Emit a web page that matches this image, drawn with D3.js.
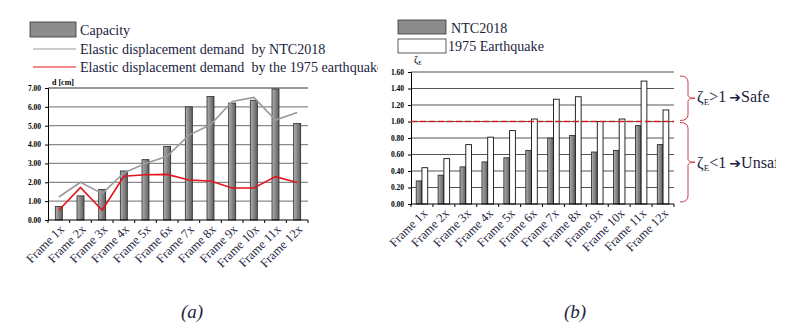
<!DOCTYPE html>
<html>
<head>
<meta charset="utf-8">
<script src="https://cdn.jsdelivr.net/npm/d3@7"></script>
<style>
  body { margin: 0; background: #fff; }
  svg text { font-family: "Liberation Serif", "Times New Roman", serif !important; }
  .tick text { font-weight: bold; font-size: 7.5px; fill: #000; }
  .legend { font-size: 14.1px; fill: #1b2340; }
  .caption { font-size: 19px; font-style: italic; fill: #1b2340; }
  svg text tspan.arrow { font-family: "DejaVu Sans", sans-serif !important; }
</style>
</head>
<body>
<div id="chart"></div>
<script>
// frames along the x axis, shared by both panels
var frames = ["Frame 1x", "Frame 2x", "Frame 3x", "Frame 4x", "Frame 5x", "Frame 6x",
              "Frame 7x", "Frame 8x", "Frame 9x", "Frame 10x", "Frame 11x", "Frame 12x"];

// panel (a): displacement in cm
var capacity = [0.72, 1.28, 1.62, 2.60, 3.20, 3.90, 6.00, 6.55, 6.20, 6.35, 6.95, 5.12];
var demandNTC = [1.22, 2.00, 1.40, 2.50, 3.00, 3.38, 4.50, 5.05, 6.28, 6.50, 5.30, 5.70];
var demand1975 = [0.52, 1.73, 0.52, 2.32, 2.40, 2.42, 2.12, 2.07, 1.70, 1.70, 2.30, 1.99];
var dTicks = [0, 1, 2, 3, 4, 5, 6, 7];

// panel (b): safety index zeta_E
var zetaNTC = [0.28, 0.35, 0.45, 0.51, 0.56, 0.65, 0.80, 0.83, 0.63, 0.65, 0.95, 0.72];
var zeta1975 = [0.44, 0.55, 0.72, 0.81, 0.89, 1.03, 1.27, 1.30, 1.00, 1.03, 1.49, 1.14];
var zTicks = [0, 0.2, 0.4, 0.6, 0.8, 1.0, 1.2, 1.4, 1.6];

var w = 800, h = 331;
var svg = d3.select("#chart").append("svg").attr("width", w).attr("height", h)
    .attr("font-family", "Liberation Serif");
var defs = svg.append("defs");

var grad = defs.append("linearGradient").attr("id", "barGray");
grad.append("stop").attr("offset", "0%").attr("stop-color", "#b4b4b4");
grad.append("stop").attr("offset", "45%").attr("stop-color", "#8a8a8a");
grad.append("stop").attr("offset", "100%").attr("stop-color", "#5e5e5e");

// legend text of panel (a) runs into panel (b)
defs.append("clipPath").attr("id", "clipA").append("rect")
    .attr("x", 0).attr("y", 0).attr("width", 378).attr("height", h);
defs.append("clipPath").attr("id", "clipR").append("rect")
    .attr("x", 0).attr("y", 0).attr("width", 776).attr("height", h);

function frameAxis(g, x, y0) {
    var step = x.step();
    g.append("line").attr("x1", x.range()[0]).attr("x2", x.range()[1])
        .attr("y1", y0).attr("y2", y0).attr("stroke", "#000");
    // tick marks on the category boundaries
    g.selectAll(".bt").data(d3.range(frames.length + 1)).enter().append("line")
        .attr("x1", function(i) { return x.range()[0] + i * step; })
        .attr("x2", function(i) { return x.range()[0] + i * step; })
        .attr("y1", y0).attr("y2", y0 + 3).attr("stroke", "#000");
    g.selectAll(".fl").data(frames).enter().append("text")
        .attr("transform", function(d) {
            return "translate(" + (x(d) + step / 2 + 3) + "," + (y0 + 7) + ") rotate(-45)";
        })
        .attr("text-anchor", "end")
        .attr("dy", "0.35em")
        .style("font-size", "12.5px")
        .style("fill", "#1b2340")
        .text(function(d) { return d; });
}

// ---------- panel (a) ----------
var a = svg.append("g");
var xA = d3.scaleBand().domain(frames).range([48, 308]);
var yA = d3.scaleLinear().domain([0, 7]).range([220, 88]);

a.selectAll(".grid").data(dTicks.slice(1)).enter().append("line")
    .attr("x1", 48).attr("x2", 308)
    .attr("y1", function(d) { return yA(d); }).attr("y2", function(d) { return yA(d); })
    .attr("stroke", function(d) { return d === 7 ? "#333" : "#8a8a8a"; })
    .attr("stroke-width", 1.2);

a.append("g").attr("transform", "translate(48,0)")
    .call(d3.axisLeft(yA).tickValues(dTicks).tickFormat(d3.format(".2f")).tickSize(3).tickPadding(4))
    .call(function(g) { g.select(".domain").attr("stroke", "#000"); });

var barW = 7;
a.selectAll(".cap").data(capacity).enter().append("rect")
    .attr("x", function(d, i) { return xA(frames[i]) + (xA.step() - barW) / 2; })
    .attr("y", function(d) { return yA(d); })
    .attr("width", barW)
    .attr("height", function(d) { return yA(0) - yA(d); })
    .attr("fill", "url(#barGray)")
    .attr("stroke", "#2a2a2a").attr("stroke-width", 0.8);

var lineA = d3.line()
    .x(function(d, i) { return xA(frames[i]) + xA.step() / 2; })
    .y(function(d) { return yA(d); });

a.append("path").datum(demandNTC).attr("d", lineA)
    .attr("fill", "none").attr("stroke", "#9a9a9a").attr("stroke-width", 1.6);
a.append("path").datum(demand1975).attr("d", lineA)
    .attr("fill", "none").attr("stroke", "#e3121c").attr("stroke-width", 1.6);

frameAxis(a, xA, 220);

a.append("text").attr("x", 52).attr("y", 85)
    .style("font-size", "8px").style("font-weight", "bold").text("d [cm]");

// legend (a)
var legA = a.append("g").attr("clip-path", "url(#clipA)");
legA.append("rect").attr("x", 30).attr("y", 22).attr("width", 46).attr("height", 15)
    .attr("fill", "#8c8c8c").attr("stroke", "#333").attr("stroke-width", 0.8);
legA.append("line").attr("x1", 33).attr("x2", 76).attr("y1", 49).attr("y2", 49)
    .attr("stroke", "#9a9a9a").attr("stroke-width", 1.2);
legA.append("line").attr("x1", 33).attr("x2", 76).attr("y1", 67).attr("y2", 67)
    .attr("stroke", "#e3121c").attr("stroke-width", 1.2);
legA.append("text").attr("class", "legend").attr("x", 80).attr("y", 35).text("Capacity");
legA.append("text").attr("class", "legend").attr("x", 80).attr("y", 54)
    .text("Elastic displacement demand\u00a0 by NTC2018");
legA.append("text").attr("class", "legend").attr("x", 80).attr("y", 72)
    .text("Elastic displacement demand\u00a0 by the 1975 earthquake");

a.append("text").attr("class", "caption").attr("x", 192).attr("y", 318)
    .attr("text-anchor", "middle").text("(a)");

// ---------- panel (b) ----------
var b = svg.append("g");
var xB = d3.scaleBand().domain(frames).range([411, 674]);
var yB = d3.scaleLinear().domain([0, 1.6]).range([204, 72]);

b.selectAll(".grid").data(zTicks.slice(1)).enter().append("line")
    .attr("x1", 411).attr("x2", 674)
    .attr("y1", function(d) { return yB(d); }).attr("y2", function(d) { return yB(d); })
    .attr("stroke", "#555").attr("stroke-width", 1);

b.append("g").attr("transform", "translate(411,0)")
    .call(d3.axisLeft(yB).tickValues(zTicks).tickFormat(d3.format(".2f")).tickSize(3).tickPadding(4))
    .call(function(g) { g.select(".domain").attr("stroke", "#000"); });

var sub = d3.scaleBand().domain(["ntc", "eq"]).range([0, 11.5]);
function pairX(i, key) { return xB(frames[i]) + xB.step() / 2 - 5.75 + sub(key); }

b.selectAll(".ntc").data(zetaNTC).enter().append("rect")
    .attr("x", function(d, i) { return pairX(i, "ntc"); })
    .attr("y", function(d) { return yB(d); })
    .attr("width", sub.bandwidth())
    .attr("height", function(d) { return yB(0) - yB(d); })
    .attr("fill", "url(#barGray)").attr("stroke", "#222").attr("stroke-width", 0.8);

b.selectAll(".eq").data(zeta1975).enter().append("rect")
    .attr("x", function(d, i) { return pairX(i, "eq"); })
    .attr("y", function(d) { return yB(d); })
    .attr("width", sub.bandwidth())
    .attr("height", function(d) { return yB(0) - yB(d); })
    .attr("fill", "#fff").attr("stroke", "#111").attr("stroke-width", 0.9);

// zeta_E = 1 threshold
b.append("line").attr("x1", 411).attr("x2", 674)
    .attr("y1", yB(1)).attr("y2", yB(1))
    .attr("stroke", "#d41c24").attr("stroke-width", 1.6).attr("stroke-dasharray", "6,3");

frameAxis(b, xB, 204);

var zl = b.append("text").attr("x", 414).attr("y", 63).style("font-size", "10px");
zl.append("tspan").text("ζ");
zl.append("tspan").attr("dy", 2).style("font-size", "5.5px").text("E");

// braces marking the safe / unsafe ranges
function brace(y1, y2) {
    var xm = 688, ym = (y1 + y2) / 2;
    return "M680," + y1 + " Q" + xm + "," + y1 + " " + xm + "," + (y1 + 6) +
           " L" + xm + "," + (ym - 3) + " Q" + xm + "," + ym + " " + (xm + 7) + "," + ym +
           " Q" + xm + "," + ym + " " + xm + "," + (ym + 3) +
           " L" + xm + "," + (y2 - 6) + " Q" + xm + "," + y2 + " 680," + y2;
}
b.append("path").attr("d", brace(yB(1.6) + 4, yB(1) - 1))
    .attr("fill", "none").attr("stroke", "#d0404c").attr("stroke-width", 1);
b.append("path").attr("d", brace(yB(1) + 1, yB(0) - 2))
    .attr("fill", "none").attr("stroke", "#d0404c").attr("stroke-width", 1);

function zetaLabel(y, rel, word) {
    var t = b.append("text").attr("x", 697).attr("y", y).attr("clip-path", "url(#clipR)")
        .style("font-size", "16px").style("fill", "#1b2340");
    t.append("tspan").text("ζ");
    t.append("tspan").attr("dy", 3).style("font-size", "9px").text("E");
    t.append("tspan").attr("dy", -3).text(rel + "1\u2009");
    t.append("tspan").attr("class", "arrow").style("font-size", "14px").style("font-weight", "bold")
        .text("\u2794");
    t.append("tspan").text(word);
}
zetaLabel((yB(1.6) + yB(1)) / 2 + 5, ">", "Safe");
zetaLabel((yB(1) + yB(0)) / 2 + 5, "<", "Unsafe");

// legend (b)
b.append("rect").attr("x", 398).attr("y", 20).attr("width", 48).attr("height", 14)
    .attr("fill", "#8c8c8c").attr("stroke", "#333").attr("stroke-width", 0.8);
b.append("rect").attr("x", 398).attr("y", 39).attr("width", 48).attr("height", 14)
    .attr("fill", "#fff").attr("stroke", "#333").attr("stroke-width", 0.8);
b.append("text").attr("class", "legend").attr("x", 451).attr("y", 33).text("NTC2018");
b.append("text").attr("class", "legend").attr("x", 448).attr("y", 51).text("1975 Earthquake");

b.append("text").attr("class", "caption").attr("x", 575).attr("y", 318)
    .attr("text-anchor", "middle").text("(b)");
</script>
</body>
</html>
